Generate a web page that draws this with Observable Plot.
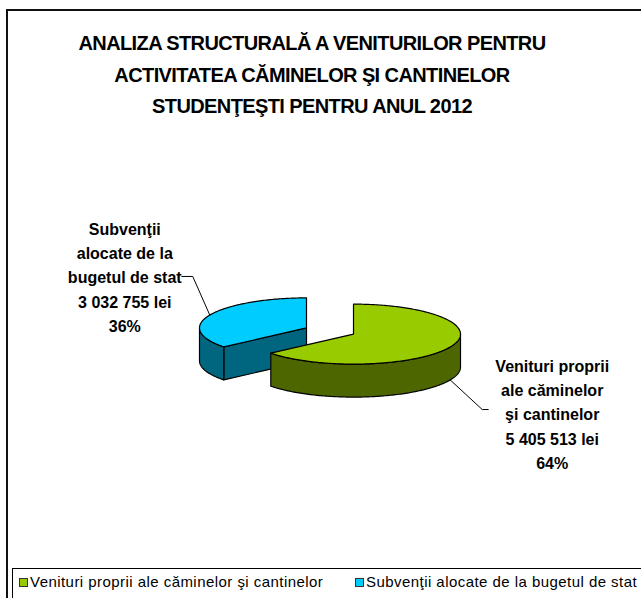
<!DOCTYPE html>
<html>
<head>
<meta charset="utf-8">
<script src="https://cdn.jsdelivr.net/npm/d3@7"></script>
<script src="https://cdn.jsdelivr.net/npm/@observablehq/plot@0.6"></script>
<style>
  html, body { margin: 0; padding: 0; background: #fff; }
  body { font-family: "Liberation Sans", Arial, sans-serif; }
  #wrap { position: relative; width: 641px; height: 598px; overflow: hidden; }
  #frame { position: absolute; left: 6px; top: 9px; width: 700px; height: 700px; border: 2px solid #111; box-sizing: border-box; }
  #title { position: absolute; left: 0; top: 28px; width: 624px; text-align: center; font-weight: bold; font-size: 20px; line-height: 31.7px; letter-spacing: -0.6px; color: #000; }
  #chart { position: absolute; left: 0; top: 0; }
  #legend { position: absolute; left: 12px; top: 568px; width: 700px; height: 60px; border: 1px solid #000; box-sizing: border-box; font-size: 15px; line-height: 16px; letter-spacing: 0.45px; white-space: nowrap; color: #000; }
  .item { position: absolute; top: 5px; }
  .sw { display: inline-block; width: 7px; height: 7px; border: 1px solid #333; margin-right: 2px; }
</style>
</head>
<body>
<div id="wrap">
  <div id="frame"></div>
  <div id="title"></div>
  <div id="chart"></div>
  <div id="legend"></div>
</div>
<script>
// ---- data ----
const titleLines = [
  "ANALIZA STRUCTURALĂ A VENITURILOR PENTRU",
  "ACTIVITATEA CĂMINELOR ŞI CANTINELOR",
  "STUDENŢEŞTI PENTRU ANUL 2012"
];
const categories = [
  "Venituri proprii ale căminelor şi cantinelor",
  "Subvenţii alocate de la bugetul de stat"
];
const labelLines = [
  ["Venituri proprii", "ale căminelor", "şi cantinelor"],
  ["Subvenţii", "alocate de la", "bugetul de stat"]
];
const values = [5405513, 3032755];
const topColors = ["#99CC00", "#00CCFF"];
const sideColors = ["#4D6600", "#00667F"];

// ---- layout ----
const cx = 329.5, cy = 330.5, rx = 107, ry = 30, depth = 33, explode = 26;
const legendItemLeft = [6, 342];
// leader elbow / end / label centre, relative to the leader anchor on the rim
const leaderLayout = [
  {elbow: [32, 29.6], end: [38, 29.6], text: [102, 32.6]},
  {elbow: [-17, -38.6], end: [-28, -38.6], text: [-85, -39.6]}
];

// ---- title & legend ----
document.getElementById("title").innerHTML = titleLines.join("<br>");
document.getElementById("legend").innerHTML = categories.map((c, i) =>
  `<span class="item" style="left:${legendItemLeft[i]}px"><span class="sw" style="background:${topColors[i]}"></span>${c}</span>`).join("");

// ---- pie geometry ----
const total = d3.sum(values);
const arcs = d3.pie().sort(null).value(d => d)(values);
const fmt = v => d3.format(",")(v).replace(/,/g, " ");

function rim(o, a, dz = 0) { return [o[0] + rx * Math.sin(a), o[1] - ry * Math.cos(a) + dz]; }
function arcPts(o, a0, a1, dz = 0) {
  const n = Math.max(2, Math.ceil(Math.abs(a1 - a0) / (Math.PI / 180)));
  return d3.range(n + 1).map(k => rim(o, a0 + (a1 - a0) * k / n, dz));
}

const slices = arcs.map((a, i) => {
  const m = (a.startAngle + a.endAngle) / 2;
  const o = [cx + explode * Math.sin(m), cy - explode * (ry / rx) * Math.cos(m)];
  return {i, a0: a.startAngle, a1: a.endAngle, m, o};
});

const faceMarks = [];
const order = slices.slice().sort((p, q) => p.o[1] - q.o[1]);
for (const s of order) {
  const {i, a0, a1, o} = s;
  const faces = [];
  if (Math.sin(a0) < -1e-6) {
    const p = rim(o, a0);
    faces.push({pts: [o, p, [p[0], p[1] + depth], [o[0], o[1] + depth], o], fill: sideColors[i]});
  }
  if (Math.sin(a1) > 1e-6) {
    const p = rim(o, a1);
    faces.push({pts: [o, p, [p[0], p[1] + depth], [o[0], o[1] + depth], o], fill: sideColors[i]});
  }
  const s0 = Math.max(a0, Math.PI / 2), s1 = Math.min(a1, 3 * Math.PI / 2);
  if (s1 > s0) {
    const top = arcPts(o, s0, s1), bot = arcPts(o, s1, s0, depth);
    faces.push({pts: [...top, ...bot, top[0]], fill: sideColors[i]});
  }
  faces.push({pts: [o, ...arcPts(o, a0, a1), o], fill: topColors[i]});
  for (const f of faces) {
    faceMarks.push(Plot.line(f.pts, {x: d => d[0], y: d => d[1], fill: f.fill, stroke: "#000", strokeWidth: 1.2, strokeLinejoin: "round", curve: "linear"}));
  }
}

const leaders = [];
const labels = [];
slices.forEach(s => {
  const front = Math.cos(s.m) < 0;
  const anchor = rim(s.o, s.m, front ? depth : 0);
  const L = leaderLayout[s.i];
  const elbow = [anchor[0] + L.elbow[0], anchor[1] + L.elbow[1]];
  const end = [anchor[0] + L.end[0], anchor[1] + L.end[1]];
  leaders.push([anchor, elbow, end]);
  labels.push({
    x: anchor[0] + L.text[0], y: anchor[1] + L.text[1],
    text: [...labelLines[s.i], fmt(values[s.i]) + " lei", Math.round(values[s.i] / total * 100) + "%"].join("\n")
  });
});

const plot = Plot.plot({
  width: 641, height: 598, margin: 0,
  x: {type: "identity", axis: null},
  y: {type: "identity", axis: null},
  style: {background: "none", fontFamily: "'Liberation Sans', Arial, sans-serif"},
  marks: [
    ...faceMarks,
    ...leaders.map(l => Plot.line(l, {x: d => d[0], y: d => d[1], stroke: "#000", strokeWidth: 1})),
    Plot.text(labels, {x: "x", y: "y", text: "text", fontSize: 16, fontWeight: "bold", lineHeight: 1.52, lineAnchor: "middle", textAnchor: "middle", fill: "#000"})
  ]
});
document.getElementById("chart").appendChild(plot);
</script>
</body>
</html>
